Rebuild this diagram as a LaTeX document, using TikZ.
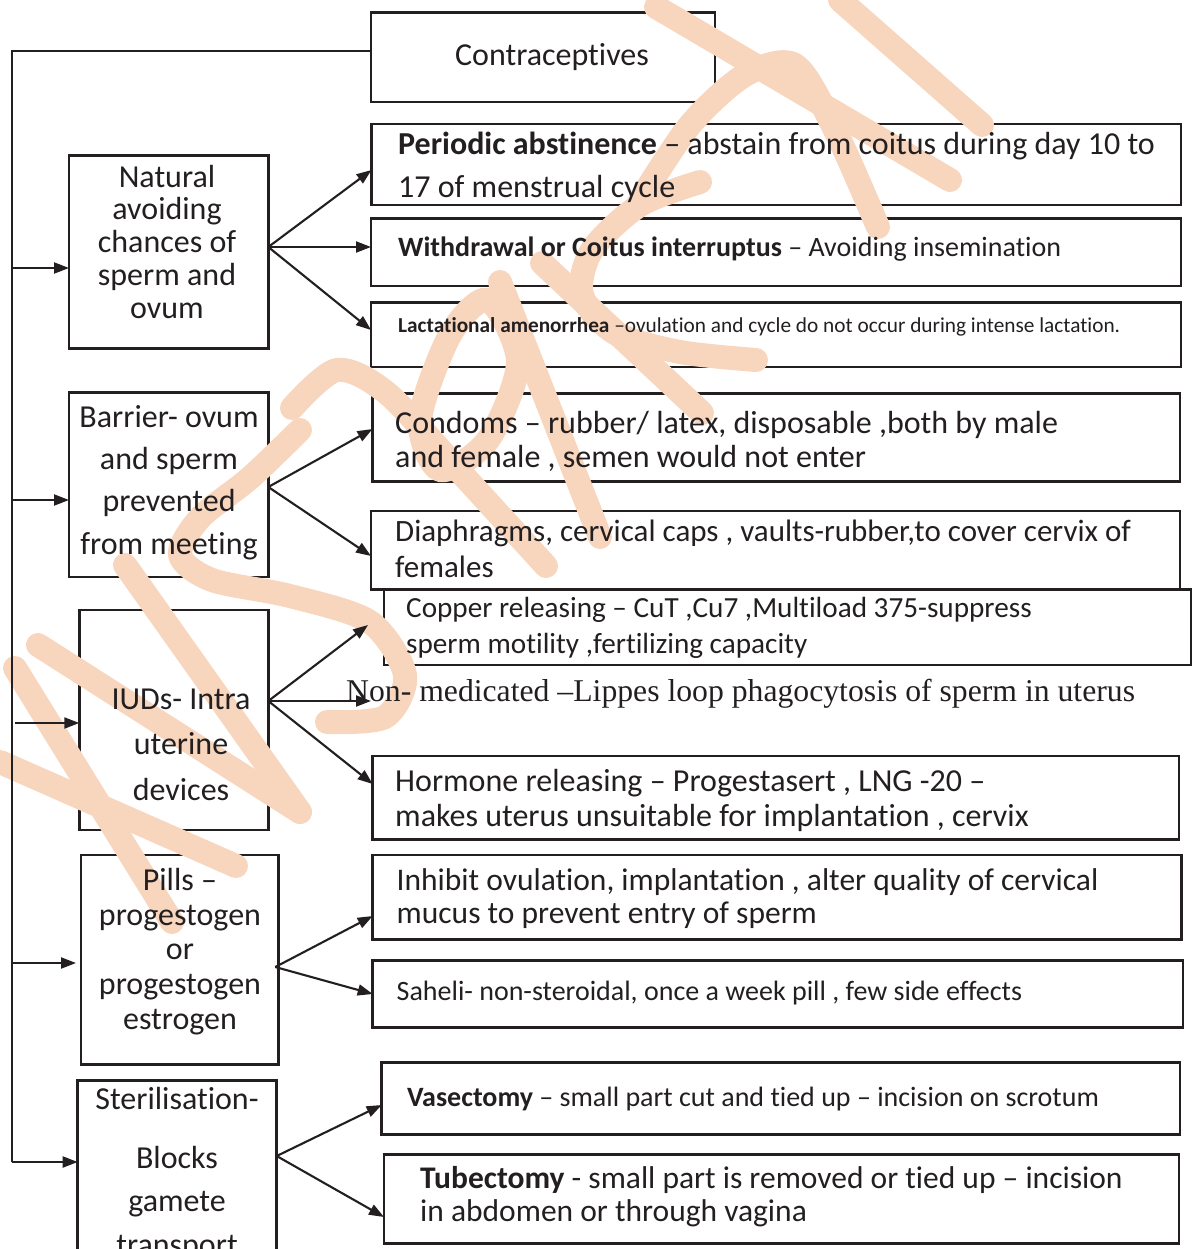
\documentclass[tikz,border=0pt]{standalone}
\usepackage{fontspec}
\setmainfont{Carlito}[Ligatures={TeX,NoCommon}]
\newfontfamily\timesf{Liberation Serif}[Ligatures={TeX,NoCommon}]
\usetikzlibrary{arrows.meta}
\definecolor{ink}{RGB}{35,31,32}
\definecolor{wmark}{RGB}{248,214,190}
\begin{document}
\begin{tikzpicture}[x=1pt,y=-1pt,
  box/.style={draw=ink,line width=2.5pt,inner sep=0pt,outer sep=0pt,anchor=north west},
  conn/.style={draw=ink,line width=2.1pt},
  arr/.style={conn,-{Triangle[length=15pt,width=11pt]}},
  wm/.style={draw=wmark,line width=24pt,line cap=round,line join=round},
  ctext/.style={text=ink,align=center,inner sep=0pt,anchor=base},
  ltext/.style={text=ink,align=left,inner sep=0pt,anchor=base west},
  fs/.style 2 args={font={\fontsize{#1}{#2}\selectfont}},
]
\useasboundingbox (0,0) rectangle (1194,1249);
\clip (0,0) rectangle (1194,1249);

% ---- boxes ----
\node[box,minimum width=344pt,minimum height=89.5pt] (con) at (371,12.5) {};
\node[box,minimum width=199.3pt,minimum height=193pt] (nat) at (69,155.5) {};
\node[box,minimum width=809.3pt,minimum height=81pt] (per) at (371.5,124) {};
\node[box,minimum width=810pt,minimum height=67.3pt] (wit) at (371,218.5) {};
\node[box,minimum width=810pt,minimum height=64.3pt] (lac) at (371,302.5) {};
\node[box,minimum width=199.3pt,minimum height=184.3pt] (bar) at (69,392.5) {};
\node[box,minimum width=807.7pt,minimum height=88.4pt] (cdm) at (372.5,393.3) {};
\node[box,minimum width=809pt,minimum height=78.3pt] (dia) at (371,511) {};
\node[box,minimum width=189pt,minimum height=220pt] (iud) at (79.3,610) {};
\node[box,minimum width=806.9pt,minimum height=75.7pt] (cop) at (384,589.3) {};
\node[box,minimum width=806.3pt,minimum height=83.6pt] (hor) at (372.7,756) {};
\node[box,minimum width=197.3pt,minimum height=209.3pt] (pil) at (81,855) {};
\node[box,minimum width=809pt,minimum height=84.3pt] (inh) at (372.7,855) {};
\node[box,minimum width=810.3pt,minimum height=67pt] (sah) at (372.7,960.7) {};
\node[box,minimum width=199pt,minimum height=200pt] (ste) at (77.7,1080.7) {};
\node[box,minimum width=798.5pt,minimum height=71.6pt] (vas) at (381.7,1062.7) {};
\node[box,minimum width=795pt,minimum height=89pt] (tub) at (384,1154.3) {};

% ---- watermark strokes (over the frames, under arrows and text) ----
% K
\draw[wm] (15,668) -- (172,922);
\draw[wm] (0,762) -- (236,866);
% V
\draw[wm] (38,645) -- (300,812);
\draw[wm] (125,565) -- (300,812);
% S
\draw[wm] plot[smooth] coordinates {(300,430) (250,478) (200,518) (180,555) (212,580) (290,596) (370,622) (405,675) (385,717) (327,722)};
% R
\draw[wm] plot[smooth] coordinates {(292,408) (337,370) (388,394) (462,474) (546,566)};
% a
\draw[wm] plot[smooth cycle] coordinates {(488,300) (450,335) (420,420) (440,470) (488,440) (518,362)};
\draw[wm] (500,282) -- (600,537);
% n
\draw[wm] (542,263) -- (702,413);
% c
\draw[wm] plot[smooth] coordinates {(700,182) (640,205) (592,250) (582,295) (615,333) (680,352) (756,360)};
% h
\draw[wm] (656,7) -- (950,180);
\draw[wm] plot[smooth] coordinates {(640,200) (690,125) (745,75) (795,65) (835,130) (878,227)};
% i
\draw[wm] (840,0) -- (982,125);

% ---- trunk and branches ----
\coordinate (tt) at (12,51);
\coordinate (tb) at (12,1162);
\coordinate (copTip) at (368,625);
\coordinate (nmTip) at (371,701);
\draw[conn] (con.west |- tt) -- (tt) -- (tb);
\draw[arr] (tt |- 0,268) -- (nat.west |- 0,268);
\draw[arr] (tt |- 0,500) -- (bar.west |- 0,500);
\draw[arr,shorten <=3pt] (tt |- 0,723) -- (iud.west |- 0,723);
\draw[arr,shorten >=5pt] (tt |- 0,963) -- (pil.west |- 0,963);
\draw[arr] (tb) -- (ste.west |- tb);

% ---- fan-out arrows ----
\draw[arr] (nat.east |- 0,247) -- (per.west |- 0,170);
\draw[arr] (nat.east |- 0,247) -- (wit.west |- 0,247);
\draw[arr] (nat.east |- 0,247) -- (lac.west |- 0,330);
\draw[arr] (bar.east |- 0,487) -- (cdm.west |- 0,429);
\draw[arr] (bar.east |- 0,487) -- (dia.west |- 0,556);
\draw[arr] (iud.east |- 0,701) -- (copTip);
\draw[arr] (iud.east |- 0,701) -- (nmTip);
\draw[arr] (iud.east |- 0,701) -- (hor.west |- 0,784);
\draw[arr] ([xshift=-3pt]pil.east |- 0,967) -- (inh.west |- 0,916);
\draw[arr] ([xshift=-3pt]pil.east |- 0,967) -- (sah.west |- 0,994);
\draw[arr] (ste.east |- 0,1156) -- (vas.west |- 0,1105);
\draw[arr] (ste.east |- 0,1156) -- (tub.west |- 0,1217);

% ---- texts (multi-line nodes sit on their last baseline) ----
\node[ctext,fs={32}{34}] (conT) at (552,65.5) {Contraceptives};
\node[ctext,fs={32}{32.7}] (natT) at (167,318) {Natural\\avoiding\\chances of\\sperm and\\ovum};
\node[ctext,fs={32}{42.2}] (barT) at (169,554) {Barrier- ovum\\and sperm\\prevented\\from meeting};
\node[ctext,fs={32}{45.5}] (iudT) at (181,800) {IUDs- Intra\\uterine\\devices};
\node[ctext,fs={32}{34.7}] (pilT) at (180,1029.3) {Pills –\\progestogen\\or\\progestogen\\estrogen};
\node[ctext,fs={32}{43.5}] (steT) at (177,1255) {Sterilisation-\\[15.5pt]Blocks\\gamete\\transport};

\node[ltext,fs={32}{43}] (perT) at (398,197.3) {\textbf{Periodic abstinence} – abstain from coitus during day 10 to\\17 of menstrual cycle};
\node[ltext,fs={28}{30}] (witT) at (398,256.7) {\textbf{Withdrawal or Coitus interruptus} – Avoiding insemination};
\node[ltext,fs={21.3}{24}] (lacT) at (398,332) {\textbf{Lactational amenorrhea} –ovulation and cycle do not occur during intense lactation.};
\node[ltext,fs={32}{34}] (cdmT) at (395,467.3) {Condoms – rubber/ latex, disposable ,both by male\\and female , semen would not enter};
\node[ltext,fs={31}{35.6}] (diaT) at (395,577.3) {Diaphragms, cervical caps , vaults-rubber,to cover cervix of\\females};
\node[ltext,fs={29.2}{36}] (copT) at (406,653.3) {Copper releasing – CuT ,Cu7 ,Multiload 375-suppress\\sperm motility ,fertilizing capacity};
\node[ltext,font={\timesf\fontsize{31.7}{34}\selectfont}] (nonT) at (346,701.7) {Non- medicated –Lippes loop phagocytosis of sperm in uterus};
\node[ltext,fs={32}{35}] (horT) at (395,826.7) {Hormone releasing – Progestasert , LNG -20 –\\makes uterus unsuitable for implantation , cervix};
\node[ltext,fs={31.5}{33.3}] (inhT) at (396.5,923.3) {Inhibit ovulation, implantation , alter quality of cervical\\mucus to prevent entry of sperm};
\node[ltext,fs={28}{30}] (sahT) at (396.5,1000) {Saheli- non-steroidal, once a week pill , few side effects};
\node[ltext,fs={28}{30}] (vasT) at (407,1106.7) {\textbf{Vasectomy} – small part cut and tied up – incision on scrotum};
\node[ltext,fs={31.5}{33.4}] (tubT) at (420,1221.7) {\textbf{Tubectomy} - small part is removed or tied up – incision\\in abdomen or through vagina};
\end{tikzpicture}
\end{document}
